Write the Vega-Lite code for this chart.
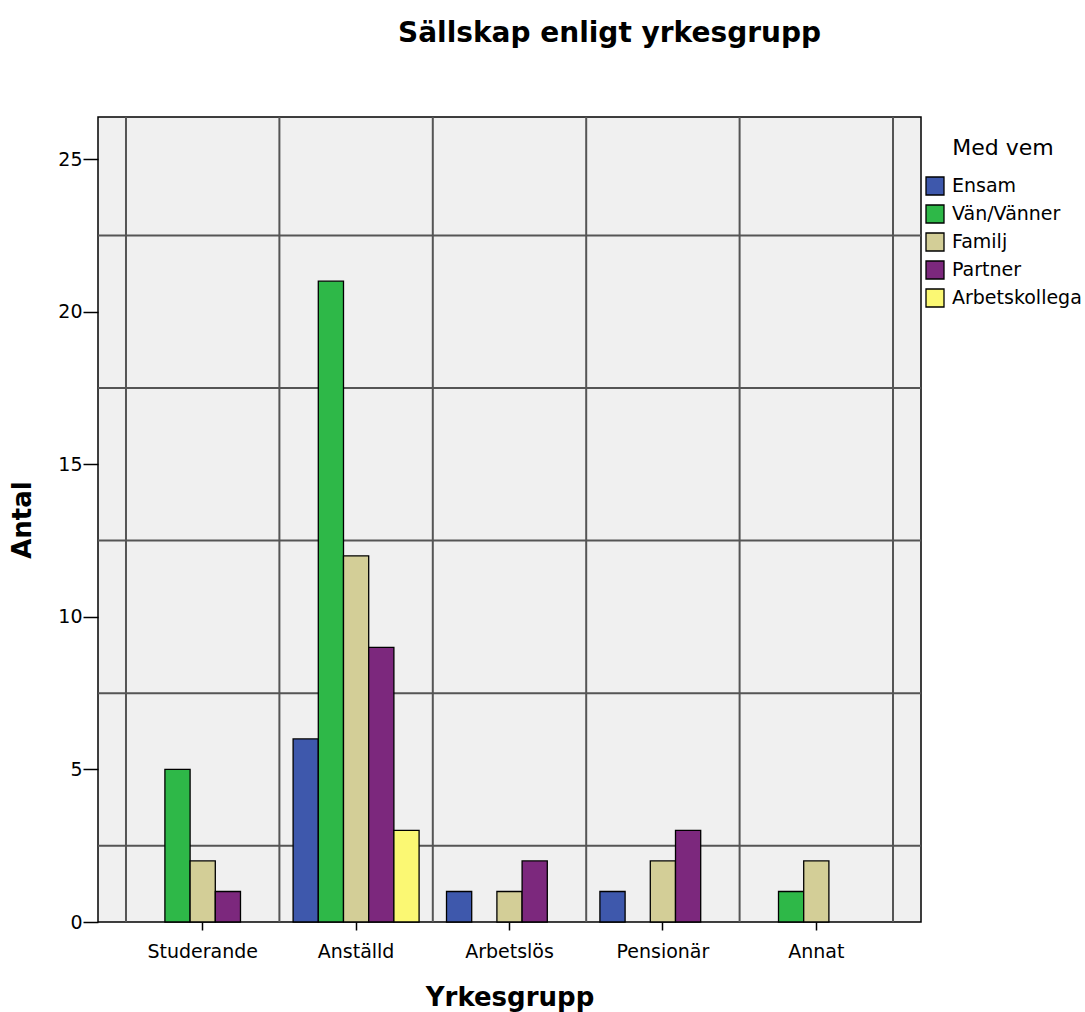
{
  "$schema": "https://vega.github.io/schema/vega-lite/v6.json",
  "width": 823,
  "height": 805,
  "autosize": {"type": "none"},
  "padding": {"left": 98, "top": 117, "right": 164, "bottom": 90},
  "background": "white",
  "title": {
    "text": "Sällskap enligt yrkesgrupp",
    "font": "DejaVu Sans",
    "fontSize": 28,
    "fontWeight": "bold",
    "color": "black",
    "anchor": "middle",
    "frame": "group",
    "dx": 100,
    "offset": 68
  },
  "config": {
    "font": "DejaVu Sans",
    "view": {"stroke": "black", "strokeWidth": 1.5, "fill": "#F0F0F0"},
    "axis": {
      "grid": false,
      "domain": false,
      "tickColor": "black",
      "tickWidth": 1.5,
      "labelColor": "black",
      "labelFont": "DejaVu Sans",
      "labelFontSize": 19,
      "titleFont": "DejaVu Sans",
      "titleFontSize": 26,
      "titleFontWeight": "bold",
      "titleColor": "black"
    },
    "axisY": {"tickSize": 15, "labelPadding": 1, "titlePadding": 22, "tickCount": 6},
    "axisX": {"tickSize": 8, "labelPadding": 12, "titlePadding": 23, "labelAngle": 0}
  },
  "datasets": {
    "counts": [
      {"Yrkesgrupp": "Studerande", "vem": "Vän/Vänner", "Antal": 5},
      {"Yrkesgrupp": "Studerande", "vem": "Familj", "Antal": 2},
      {"Yrkesgrupp": "Studerande", "vem": "Partner", "Antal": 1},
      {"Yrkesgrupp": "Anställd", "vem": "Ensam", "Antal": 6},
      {"Yrkesgrupp": "Anställd", "vem": "Vän/Vänner", "Antal": 21},
      {"Yrkesgrupp": "Anställd", "vem": "Familj", "Antal": 12},
      {"Yrkesgrupp": "Anställd", "vem": "Partner", "Antal": 9},
      {"Yrkesgrupp": "Anställd", "vem": "Arbetskollega", "Antal": 3},
      {"Yrkesgrupp": "Arbetslös", "vem": "Ensam", "Antal": 1},
      {"Yrkesgrupp": "Arbetslös", "vem": "Familj", "Antal": 1},
      {"Yrkesgrupp": "Arbetslös", "vem": "Partner", "Antal": 2},
      {"Yrkesgrupp": "Pensionär", "vem": "Ensam", "Antal": 1},
      {"Yrkesgrupp": "Pensionär", "vem": "Familj", "Antal": 2},
      {"Yrkesgrupp": "Pensionär", "vem": "Partner", "Antal": 3},
      {"Yrkesgrupp": "Annat", "vem": "Vän/Vänner", "Antal": 1},
      {"Yrkesgrupp": "Annat", "vem": "Familj", "Antal": 2}
    ],
    "hgrid": [
      {"Antal": 2.5}, {"Antal": 7.5}, {"Antal": 12.5}, {"Antal": 17.5}, {"Antal": 22.5}
    ],
    "vgrid": [
      {"Yrkesgrupp": "Studerande"}, {"Yrkesgrupp": "Anställd"}, {"Yrkesgrupp": "Arbetslös"},
      {"Yrkesgrupp": "Pensionär"}, {"Yrkesgrupp": "Annat"}
    ],
    "vlast": [{"Yrkesgrupp": "Annat"}]
  },
  "layer": [
    {
      "data": {"name": "hgrid"},
      "mark": {"type": "rule", "color": "#555555", "strokeWidth": 2},
      "encoding": {
        "y": {"field": "Antal", "type": "quantitative", "scale": {"domain": [0, 26.38], "nice": false}}
      }
    },
    {
      "data": {"name": "vgrid"},
      "mark": {"type": "rule", "color": "#555555", "strokeWidth": 2},
      "encoding": {
        "x": {"field": "Yrkesgrupp", "type": "nominal", "bandPosition": 0,
              "scale": {"type": "band", "domain": ["Studerande", "Anställd", "Arbetslös", "Pensionär", "Annat"], "paddingInner": 0, "paddingOuter": 0.1825}}
      }
    },
    {
      "data": {"name": "vlast"},
      "mark": {"type": "rule", "color": "#555555", "strokeWidth": 2},
      "encoding": {
        "x": {"field": "Yrkesgrupp", "type": "nominal", "bandPosition": 1,
              "scale": {"type": "band", "domain": ["Studerande", "Anställd", "Arbetslös", "Pensionär", "Annat"], "paddingInner": 0, "paddingOuter": 0.1825}}
      }
    },
    {
      "data": {"name": "counts"},
      "mark": {"type": "bar", "stroke": "black", "strokeWidth": 1.3},
      "encoding": {
        "x": {"field": "Yrkesgrupp", "type": "nominal",
              "scale": {"type": "band", "domain": ["Studerande", "Anställd", "Arbetslös", "Pensionär", "Annat"], "paddingInner": 0, "paddingOuter": 0.1825}},
        "xOffset": {"field": "vem", "type": "nominal",
                    "scale": {"domain": ["Ensam", "Vän/Vänner", "Familj", "Partner", "Arbetskollega"], "paddingInner": 0, "paddingOuter": 0.544}},
        "y": {"field": "Antal", "type": "quantitative", "scale": {"domain": [0, 26.38], "nice": false}},
        "color": {
          "field": "vem",
          "type": "nominal",
          "scale": {
            "domain": ["Ensam", "Vän/Vänner", "Familj", "Partner", "Arbetskollega"],
            "range": ["#3E58AC", "#2EB848", "#D3CE97", "#7C287D", "#FBF873"]
          },
          "legend": {
            "title": "Med vem",
            "orient": "none",
            "legendX": 827,
            "legendY": 21,
            "padding": 0,
            "symbolType": "square",
            "symbolSize": 324,
            "symbolStrokeColor": "black",
            "symbolStrokeWidth": 1.3,
            "labelFont": "DejaVu Sans",
            "labelFontSize": 19,
            "labelColor": "black",
            "labelOffset": 7,
            "labelLimit": 300,
            "rowPadding": 4,
            "titleFont": "DejaVu Sans",
            "titleFontSize": 22,
            "titleFontWeight": "normal",
            "titleColor": "black",
            "titleAnchor": "middle",
            "titlePadding": 16
          }
        }
      }
    }
  ]
}
